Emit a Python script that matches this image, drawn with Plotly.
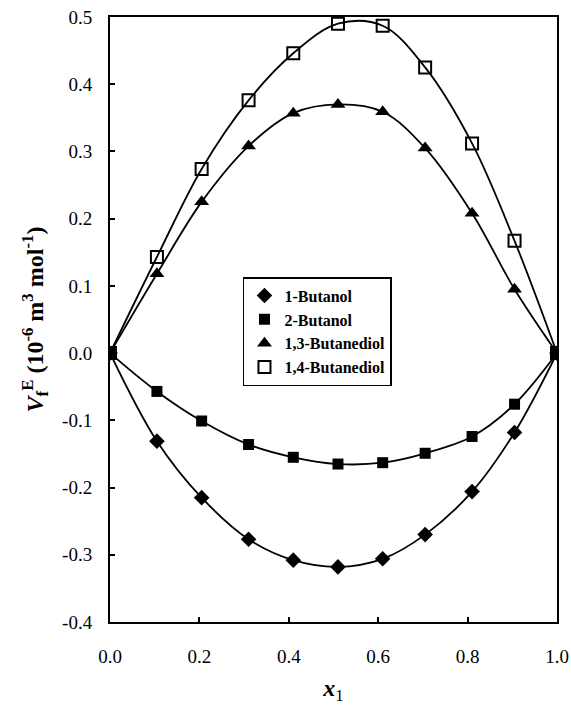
import plotly.graph_objects as go

# Mole fraction of alcohol
x1 = [0.0, 0.105, 0.205, 0.31, 0.41, 0.51, 0.61, 0.705, 0.81, 0.905, 1.0]

# Excess free volume, 10^-6 m^3 mol^-1
butanol_1 = [0.0, -0.131, -0.215, -0.277, -0.308, -0.318, -0.306, -0.270, -0.206, -0.118, 0.0]
butanol_2 = [0.0, -0.057, -0.101, -0.136, -0.155, -0.165, -0.163, -0.149, -0.124, -0.076, 0.0]
butanediol_13 = [0.0, 0.118, 0.225, 0.308, 0.357, 0.370, 0.359, 0.305, 0.208, 0.095, 0.0]
butanediol_14 = [0.0, 0.143, 0.274, 0.376, 0.446, 0.490, 0.487, 0.425, 0.312, 0.167, 0.0]

names = ["1-Butanol", "2-Butanol", "1,3-Butanediol", "1,4-Butanediol"]
x_ticks = [0.0, 0.2, 0.4, 0.6, 0.8, 1.0]
y_ticks = [-0.4, -0.3, -0.2, -0.1, 0.0, 0.1, 0.2, 0.3, 0.4, 0.5]

FONT = "Liberation Serif"

series = [
    (butanol_1, names[0], dict(symbol="diamond", size=12, color="black")),
    (butanol_2, names[1], dict(symbol="square", size=11, color="black")),
    (butanediol_13, names[2], dict(symbol="triangle-up", size=13, color="black")),
    (butanediol_14, names[3], dict(symbol="square-open", size=12, color="black",
                                   line=dict(width=2, color="black"))),
]

fig = go.Figure()
# smooth fitted curves
for ys, name, marker in series:
    fig.add_trace(go.Scatter(
        x=x1, y=ys, mode="lines", showlegend=False, hoverinfo="skip",
        line=dict(color="black", width=1.8, shape="spline", smoothing=1.0),
    ))
# measured points
for ys, name, marker in series:
    fig.add_trace(go.Scatter(x=x1, y=ys, name=f"<b>{name}</b>", mode="markers", marker=marker))

axis_common = dict(
    showline=True, linecolor="black", linewidth=2, mirror=True,
    showgrid=False, zeroline=False, automargin=False,
    tickfont=dict(family=FONT, size=19, color="black"),
    ticks="inside", tickcolor="black", ticklen=5, tickwidth=1.5,
)

fig.update_layout(
    width=571, height=705,
    margin=dict(l=110, r=14, t=17, b=83),
    paper_bgcolor="white", plot_bgcolor="white",
    font=dict(family=FONT, color="black"),
    xaxis=dict(
        range=[0, 1.0], tickvals=x_ticks,
        ticktext=[f"{v:.1f}" for v in x_ticks],
        ticklabelstandoff=16,
        title=dict(text="<b><i>x</i></b><sub>1</sub>",
                   font=dict(family=FONT, size=24, color="black"), standoff=18),
        **axis_common,
    ),
    yaxis=dict(
        range=[-0.4, 0.5], tickvals=y_ticks,
        ticktext=[f"{v:.1f}" for v in y_ticks],
        ticklabelstandoff=12,
        title=dict(text="<b><i>V</i><sub>f</sub><sup>E</sup> (10<sup>-6</sup> m<sup>3</sup> mol<sup>-1</sup>)</b>",
                   font=dict(family=FONT, size=24, color="black"), standoff=12),
        **axis_common,
    ),
    legend=dict(
        x=0.2975, y=0.57, xanchor="left", yanchor="top",
        bgcolor="white", bordercolor="black", borderwidth=1.5,
        font=dict(family=FONT, size=16, color="black"),
        tracegroupgap=0, itemwidth=30,
    ),
)

fig.write_html("out.html")
